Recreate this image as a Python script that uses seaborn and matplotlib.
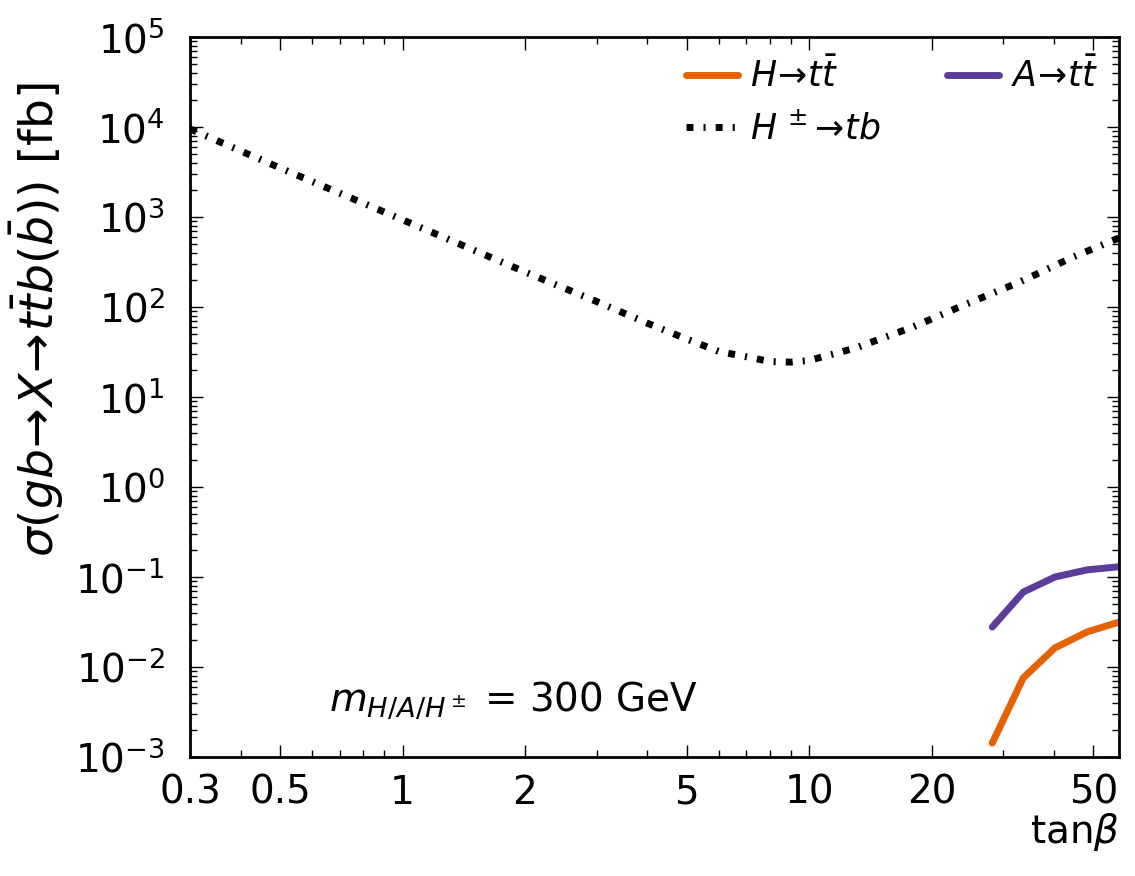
import numpy as np
import pandas as pd
import matplotlib
matplotlib.use('Agg')
import matplotlib.pyplot as plt
import seaborn as sns
from matplotlib.lines import Line2D

# H+- -> tb kesit verisi
tanb_hpm = [0.3, 0.5, 1, 2, 3, 4, 5, 6, 7, 8, 9, 10, 13, 18, 24, 33, 44, 57.8]
sigma_hpm = [9500, 3500, 930, 245, 115, 66, 44, 32, 28, 24.8, 24.4, 25.5, 35, 60, 105, 190, 350, 585]

# H -> tt ve A -> tt
tanb_tt = [28.2, 33.6, 40.2, 48.2, 57.8]
sigma_H = [0.00143, 0.00755, 0.0163, 0.0245, 0.0316]
sigma_A = [0.0278, 0.068, 0.100, 0.120, 0.130]

orange = '#e66101'
purple = '#5e3c99'

sns.set_style('ticks')
plt.rcParams['font.family'] = ['DejaVu Sans']
plt.rcParams['mathtext.fontset'] = 'dejavusans'
for k in ['text.color', 'axes.labelcolor', 'xtick.color', 'ytick.color', 'axes.edgecolor']:
    plt.rcParams[k] = 'black'

fig = plt.figure(figsize=(11.35, 8.76), dpi=100)
ax = fig.add_axes([0.1674, 0.1358, 0.8185, 0.822])

df_hpm = pd.DataFrame({'tanb': tanb_hpm, 'sigma': sigma_hpm})
df_tt = pd.DataFrame({'tanb': tanb_tt, 'H': sigma_H, 'A': sigma_A})

sns.lineplot(data=df_tt, x='tanb', y='H', color=orange, lw=5, ax=ax)
sns.lineplot(data=df_tt, x='tanb', y='A', color=purple, lw=5, ax=ax)
sns.lineplot(data=df_hpm, x='tanb', y='sigma', color='black', lw=5, ax=ax)
dash = (0, (1, 1.45, 0.3, 1.45))
ax.lines[-1].set_linestyle(dash)
ax.lines[-1].set_dash_capstyle('butt')

ax.set_xscale('log')
ax.set_yscale('log')
ax.set_xlim(0.3, 57.8)
ax.set_ylim(1e-3, 1e5)

xt = [0.3, 0.5, 1, 2, 5, 10, 20, 50]
ax.set_xticks(xt)
ax.set_xticklabels(['0.3', '0.5', '1', '2', '5', '10', '20', '50'])
ax.set_yticks([10.0 ** k for k in range(-3, 6)])

for s in ax.spines.values():
    s.set_linewidth(2)
    s.set_color('black')
ax.tick_params(which='both', direction='in', top=True, right=True, width=1, color='black')
ax.tick_params(which='major', length=9)
ax.tick_params(which='minor', length=5)
ax.tick_params(axis='x', which='major', labelsize=28, pad=12)
ax.tick_params(axis='y', which='major', labelsize=28, pad=18)

ax.set_xlabel(r'tan$\beta$', fontsize=28)
ax.xaxis.set_label_coords(1.0, -0.075)
ax.xaxis.label.set_horizontalalignment('right')
ax.set_ylabel(r'$\sigma(gb\!\rightarrow\!X\!\rightarrow\!t\bar{t}b(\bar{b}))$ [fb]', fontsize=34)
ax.yaxis.set_label_coords(-0.134, 0.607)

ax.text(0.15, 0.065, r'$m_{H/A/H^\pm}$ = 300 GeV', transform=ax.transAxes, fontsize=28)

handles = [Line2D([], [], color=orange, lw=5),
           Line2D([], [], color='black', lw=5, linestyle=dash, dash_capstyle='butt'),
           Line2D([], [], color=purple, lw=5)]
labels = [r'$H\!\rightarrow\!t\bar{t}$', r'$H^{\,\pm}\!\rightarrow\!tb$', r'$A\!\rightarrow\!t\bar{t}$']
ax.legend(handles, labels, loc='upper right', ncol=2, frameon=False, fontsize=25,
          handlelength=1.5, handletextpad=0.35, columnspacing=1.9, labelspacing=0.5,
          borderaxespad=0.2)

fig.savefig('out.png', dpi=100)
